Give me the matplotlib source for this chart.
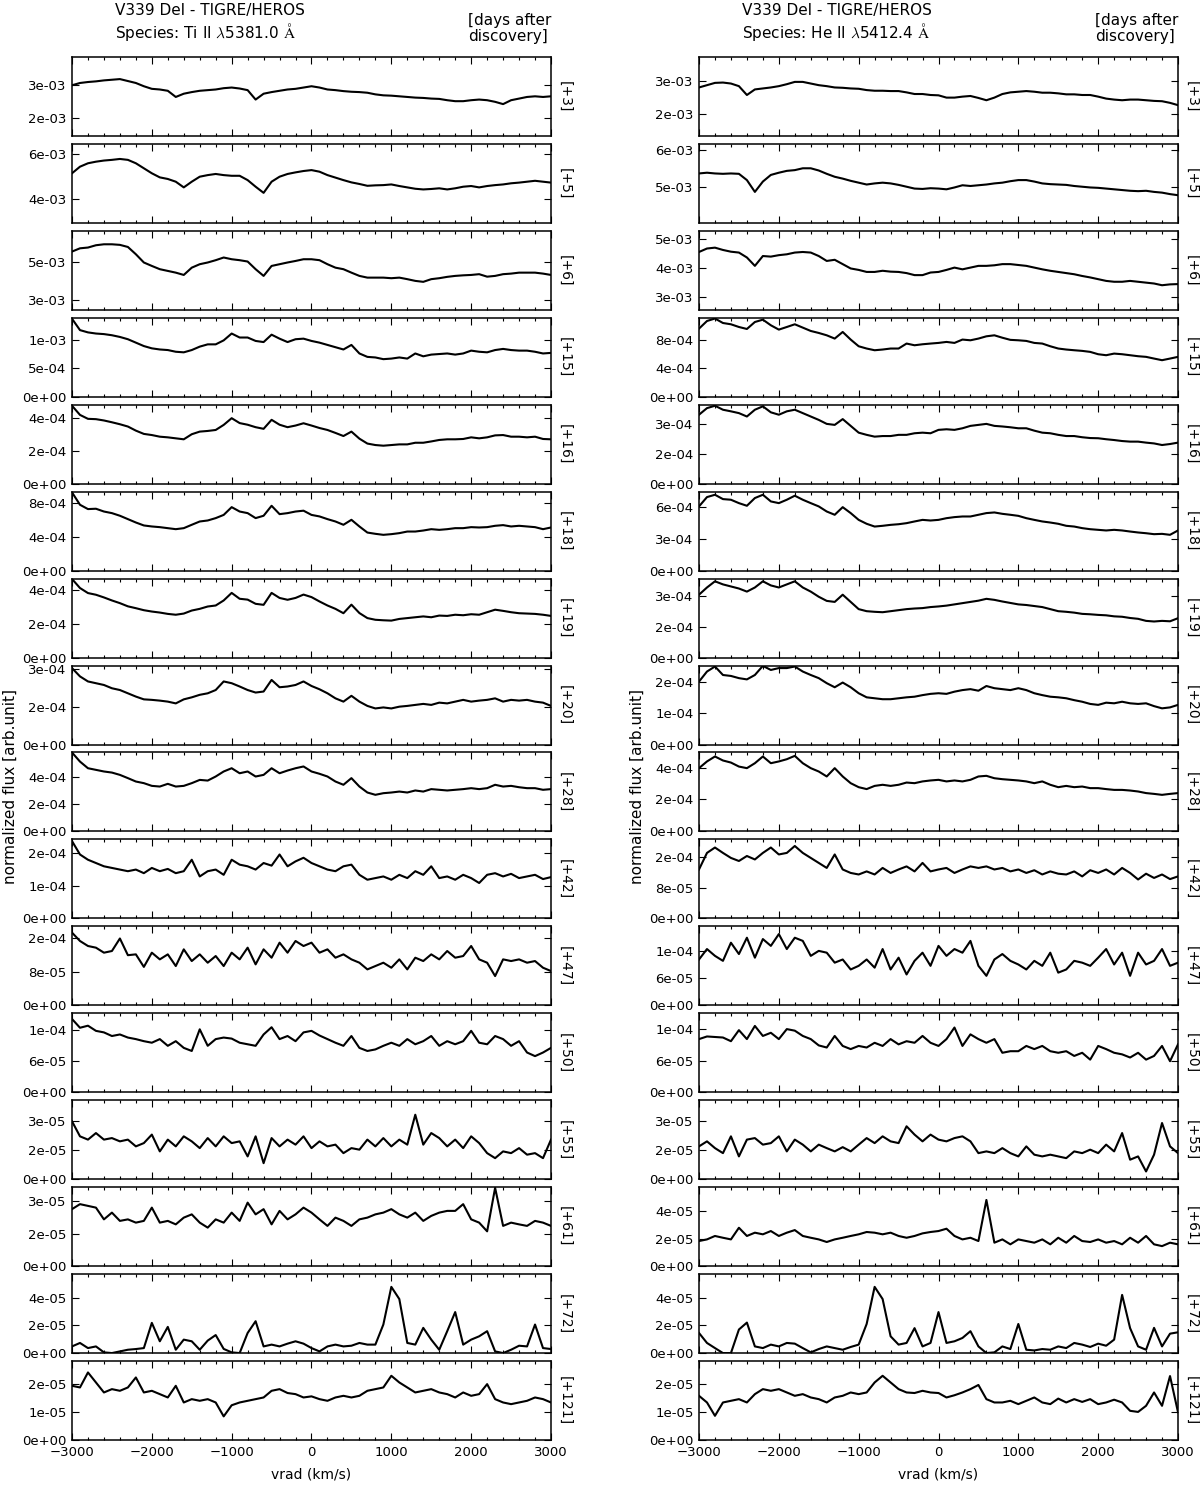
import numpy as np
import matplotlib
matplotlib.use("Agg")
import matplotlib.pyplot as plt
from matplotlib.ticker import MultipleLocator, FuncFormatter

plt.rcParams['mathtext.fontset'] = 'cm'

vrad = np.arange(-3000, 3001, 100)
days = ["+3", "+5", "+6", "+15", "+16", "+18", "+19", "+20",
        "+28", "+42", "+47", "+50", "+55", "+61", "+72", "+121"]

# ---- Ti II 5381.0 (left column), values in units of scale ----
ti_p3 = [3.00, 3.07, 3.10, 3.12, 3.15, 3.17, 3.19, 3.13, 3.07, 2.97,
         2.89, 2.87, 2.83, 2.64, 2.74, 2.79, 2.83, 2.85, 2.87, 2.91,
         2.93, 2.90, 2.85, 2.56, 2.74, 2.79, 2.83, 2.87, 2.89, 2.93,
         2.97, 2.93, 2.87, 2.85, 2.82, 2.80, 2.79, 2.77, 2.72, 2.69,
         2.68, 2.66, 2.64, 2.62, 2.61, 2.59, 2.58, 2.54, 2.51, 2.51,
         2.54, 2.56, 2.54, 2.49, 2.42, 2.54, 2.59, 2.64, 2.66, 2.64, 2.66]
ti_p5 = [5.15, 5.44, 5.59, 5.66, 5.71, 5.74, 5.78, 5.74, 5.59, 5.37,
         5.15, 4.97, 4.90, 4.78, 4.53, 4.78, 5.00, 5.07, 5.12, 5.07,
         5.04, 5.04, 4.85, 4.56, 4.29, 4.78, 5.00, 5.12, 5.19, 5.25,
         5.29, 5.22, 5.07, 4.96, 4.85, 4.75, 4.68, 4.60, 4.62, 4.63,
         4.66, 4.59, 4.53, 4.47, 4.44, 4.46, 4.49, 4.44, 4.49, 4.56,
         4.59, 4.53, 4.59, 4.63, 4.66, 4.71, 4.74, 4.78, 4.82, 4.78, 4.74]
ti_p6 = [5.54, 5.71, 5.75, 5.87, 5.92, 5.92, 5.89, 5.78, 5.40, 4.97,
         4.79, 4.62, 4.53, 4.44, 4.32, 4.70, 4.88, 4.97, 5.09, 5.23,
         5.14, 5.09, 5.02, 4.62, 4.27, 4.79, 4.88, 4.97, 5.05, 5.14,
         5.14, 5.09, 4.88, 4.70, 4.62, 4.44, 4.27, 4.18, 4.18, 4.18,
         4.15, 4.18, 4.10, 4.01, 3.96, 4.10, 4.15, 4.22, 4.27, 4.30,
         4.32, 4.36, 4.23, 4.27, 4.36, 4.39, 4.44, 4.44, 4.44, 4.39, 4.32]
ti_p15 = [13.7, 11.7, 11.3, 11.1, 11.0, 10.8, 10.5, 10.1, 9.5, 8.9,
          8.5, 8.3, 8.2, 7.9, 7.8, 8.2, 8.8, 9.2, 9.2, 9.9,
          11.1, 10.4, 10.4, 9.8, 9.6, 10.9, 10.2, 9.6, 10.1, 10.2,
          9.8, 9.5, 9.1, 8.7, 8.3, 9.1, 7.6, 7.0, 6.9, 6.6,
          6.7, 6.9, 6.7, 7.6, 7.1, 7.4, 7.5, 7.6, 7.4, 7.6,
          8.1, 7.9, 7.8, 8.2, 8.4, 8.2, 8.1, 8.1, 7.9, 7.6, 7.7]
ti_p16 = [4.76, 4.20, 3.96, 3.94, 3.86, 3.75, 3.63, 3.49, 3.24, 3.04,
          2.97, 2.87, 2.83, 2.77, 2.71, 3.02, 3.18, 3.22, 3.28, 3.59,
          4.00, 3.70, 3.60, 3.45, 3.35, 3.90, 3.60, 3.45, 3.55, 3.69,
          3.55, 3.40, 3.28, 3.10, 2.91, 3.18, 2.75, 2.45, 2.36, 2.32,
          2.36, 2.40, 2.40, 2.50, 2.50, 2.58, 2.67, 2.71, 2.71, 2.73,
          2.83, 2.77, 2.83, 2.95, 2.97, 2.87, 2.87, 2.83, 2.87, 2.73, 2.71]
ti_p18 = [9.27, 7.80, 7.29, 7.33, 7.00, 6.81, 6.50, 6.10, 5.70, 5.35,
          5.23, 5.15, 5.03, 4.91, 5.03, 5.43, 5.82, 5.94, 6.22, 6.60,
          7.52, 7.00, 6.81, 6.22, 6.50, 7.68, 6.69, 6.81, 7.00, 7.10,
          6.60, 6.42, 6.10, 5.82, 5.43, 6.02, 5.23, 4.51, 4.36, 4.24,
          4.32, 4.44, 4.63, 4.63, 4.75, 4.91, 4.83, 4.91, 5.03, 5.03,
          5.15, 5.11, 5.15, 5.31, 5.39, 5.23, 5.31, 5.23, 5.15, 4.91, 5.11]
ti_p19 = [4.68, 4.14, 3.84, 3.74, 3.58, 3.40, 3.24, 3.05, 2.94, 2.82,
          2.74, 2.68, 2.60, 2.55, 2.62, 2.80, 2.90, 3.04, 3.10, 3.40,
          3.85, 3.50, 3.45, 3.20, 3.14, 3.85, 3.55, 3.44, 3.55, 3.75,
          3.60, 3.34, 3.10, 2.90, 2.64, 3.15, 2.65, 2.35, 2.25, 2.22,
          2.20, 2.30, 2.35, 2.40, 2.45, 2.40, 2.50, 2.48, 2.55, 2.52,
          2.58, 2.55, 2.70, 2.85, 2.78, 2.70, 2.64, 2.62, 2.60, 2.55, 2.48]
ti_p20 = [3.03, 2.70, 2.50, 2.43, 2.36, 2.23, 2.16, 2.03, 1.90, 1.79,
          1.77, 1.74, 1.70, 1.63, 1.79, 1.87, 1.97, 2.03, 2.16, 2.50,
          2.43, 2.30, 2.16, 2.06, 2.10, 2.56, 2.27, 2.30, 2.36, 2.50,
          2.32, 2.19, 2.03, 1.83, 1.70, 1.93, 1.70, 1.53, 1.43, 1.47,
          1.43, 1.50, 1.53, 1.57, 1.61, 1.57, 1.66, 1.63, 1.70, 1.77,
          1.70, 1.74, 1.77, 1.83, 1.70, 1.77, 1.74, 1.77, 1.70, 1.66, 1.53]
ti_p28 = [5.82, 5.15, 4.66, 4.54, 4.42, 4.34, 4.17, 3.93, 3.68, 3.56,
          3.36, 3.31, 3.51, 3.31, 3.36, 3.56, 3.80, 3.75, 4.05, 4.42,
          4.66, 4.29, 4.42, 4.05, 4.17, 4.66, 4.29, 4.49, 4.66, 4.79,
          4.42, 4.25, 4.05, 3.68, 3.44, 3.93, 3.31, 2.87, 2.70, 2.82,
          2.87, 2.94, 2.87, 3.02, 2.94, 3.12, 3.07, 3.02, 3.07, 3.12,
          3.19, 3.12, 3.19, 3.44, 3.31, 3.36, 3.26, 3.19, 3.19, 3.07, 3.12]
ti_p42 = [2.36, 1.95, 1.79, 1.69, 1.59, 1.54, 1.49, 1.44, 1.49, 1.38,
          1.54, 1.44, 1.51, 1.38, 1.44, 1.79, 1.28, 1.44, 1.49, 1.33,
          1.79, 1.64, 1.59, 1.49, 1.69, 1.61, 1.95, 1.59, 1.74, 1.85,
          1.69, 1.59, 1.49, 1.44, 1.59, 1.64, 1.33, 1.18, 1.23, 1.28,
          1.18, 1.33, 1.23, 1.44, 1.33, 1.59, 1.23, 1.28, 1.18, 1.33,
          1.23, 1.08, 1.33, 1.38, 1.28, 1.36, 1.23, 1.28, 1.33, 1.20, 1.26]
ti_p47 = [17.4, 15.4, 14.2, 13.8, 12.6, 13.0, 16.0, 12.0, 12.2, 9.2,
          12.6, 11.0, 12.2, 9.4, 13.4, 10.6, 12.2, 10.2, 11.8, 9.4,
          12.6, 11.0, 13.8, 9.8, 13.4, 11.4, 15.0, 12.6, 15.4, 14.2,
          15.0, 12.6, 13.4, 11.4, 12.2, 11.0, 10.2, 8.6, 9.4, 10.2,
          9.0, 11.0, 8.6, 11.4, 10.6, 12.2, 11.0, 13.0, 11.4, 11.8,
          14.2, 11.0, 10.2, 7.0, 11.0, 10.6, 11.0, 10.2, 10.6, 9.0, 8.2]
ti_p50 = [14.2, 12.5, 12.9, 11.9, 11.6, 10.9, 11.2, 10.6, 10.3, 9.9,
          9.6, 10.3, 9.0, 9.9, 8.6, 8.0, 12.2, 9.0, 10.3, 10.6,
          10.4, 9.6, 9.3, 9.0, 11.2, 12.6, 10.3, 10.9, 9.9, 11.6,
          11.9, 11.0, 10.3, 9.6, 9.0, 10.9, 8.6, 8.0, 8.3, 9.0,
          9.6, 9.0, 10.3, 9.3, 9.9, 10.9, 9.0, 9.9, 9.3, 9.9,
          11.9, 9.6, 9.3, 10.9, 10.3, 9.0, 9.9, 7.7, 7.0, 7.7, 8.6]
ti_p55 = [3.00, 2.22, 2.05, 2.39, 2.05, 2.13, 1.96, 2.05, 1.70, 1.87,
          2.31, 1.44, 2.05, 1.70, 2.22, 1.96, 1.61, 2.13, 1.70, 2.22,
          1.87, 1.96, 1.18, 2.22, 0.83, 2.13, 1.70, 2.05, 1.79, 2.22,
          1.61, 1.96, 1.70, 1.79, 1.35, 1.61, 1.53, 2.05, 1.70, 2.13,
          1.70, 2.05, 1.79, 3.34, 1.79, 2.39, 2.13, 1.70, 2.05, 1.61,
          2.22, 1.87, 1.35, 1.09, 1.44, 1.35, 1.61, 1.27, 1.35, 1.09, 2.05]
ti_p61 = [2.62, 2.85, 2.77, 2.69, 2.15, 2.46, 2.08, 2.15, 2.00, 2.08,
          2.69, 2.00, 2.08, 1.92, 2.23, 2.38, 2.00, 1.77, 2.15, 2.00,
          2.46, 2.08, 2.92, 2.38, 2.62, 1.92, 2.54, 2.15, 2.38, 2.69,
          2.46, 2.15, 1.85, 2.23, 2.08, 1.85, 2.15, 2.23, 2.38, 2.46,
          2.62, 2.38, 2.23, 2.46, 2.08, 2.31, 2.46, 2.54, 2.54, 2.85,
          2.15, 2.00, 1.60, 3.60, 1.85, 2.00, 1.92, 1.85, 2.08, 2.00, 1.85]
ti_p72 = [0.48, 0.73, 0.36, 0.48, 0.05, 0.00, 0.12, 0.24, 0.29, 0.36,
          2.18, 0.85, 1.89, 0.24, 0.97, 0.85, 0.24, 0.90, 1.30, 0.30,
          0.05, 0.00, 1.45, 2.30, 0.48, 0.61, 0.48, 0.68, 0.85, 0.68,
          0.36, 0.12, 0.48, 0.61, 0.48, 0.53, 0.73, 0.61, 0.61, 2.06,
          4.78, 3.90, 0.73, 0.61, 1.82, 0.97, 0.24, 1.58, 2.96, 0.61,
          0.97, 1.21, 1.58, 0.12, 0.00, 0.24, 0.53, 0.48, 2.06, 0.36, 0.29]
ti_p121 = [1.95, 1.89, 2.43, 2.07, 1.71, 1.83, 1.77, 1.89, 2.25, 1.71,
           1.77, 1.65, 1.53, 1.95, 1.35, 1.47, 1.41, 1.47, 1.35, 0.85,
           1.25, 1.35, 1.41, 1.47, 1.53, 1.77, 1.83, 1.69, 1.65, 1.53,
           1.57, 1.47, 1.41, 1.53, 1.59, 1.53, 1.59, 1.77, 1.83, 1.89,
           2.31, 2.07, 1.89, 1.71, 1.77, 1.83, 1.71, 1.65, 1.53, 1.71,
           1.59, 1.65, 2.01, 1.47, 1.35, 1.29, 1.35, 1.41, 1.53, 1.47, 1.35]

# ---- He II 5412.4 (right column) ----
he_p3 = [2.80, 2.87, 2.94, 2.95, 2.92, 2.84, 2.57, 2.74, 2.77, 2.80,
         2.84, 2.90, 2.97, 2.97, 2.92, 2.87, 2.84, 2.80, 2.79, 2.77,
         2.76, 2.72, 2.70, 2.70, 2.69, 2.69, 2.65, 2.60, 2.60, 2.57,
         2.56, 2.49, 2.49, 2.52, 2.54, 2.48, 2.41, 2.49, 2.60, 2.65,
         2.67, 2.69, 2.67, 2.64, 2.64, 2.62, 2.59, 2.59, 2.57, 2.57,
         2.52, 2.46, 2.43, 2.41, 2.43, 2.43, 2.41, 2.39, 2.38, 2.33, 2.26]
he_p5 = [5.36, 5.38, 5.36, 5.35, 5.36, 5.35, 5.18, 4.86, 5.14, 5.32,
         5.38, 5.43, 5.45, 5.50, 5.50, 5.44, 5.35, 5.27, 5.22, 5.16,
         5.11, 5.06, 5.09, 5.11, 5.09, 5.05, 5.00, 4.95, 4.94, 4.96,
         4.95, 4.93, 4.98, 5.04, 5.02, 5.04, 5.06, 5.09, 5.11, 5.15,
         5.18, 5.18, 5.14, 5.09, 5.07, 5.06, 5.05, 5.02, 5.00, 4.98,
         4.97, 4.95, 4.93, 4.91, 4.89, 4.88, 4.89, 4.86, 4.84, 4.80, 4.77]
he_p6 = [4.55, 4.67, 4.70, 4.62, 4.56, 4.53, 4.36, 4.07, 4.41, 4.39,
         4.44, 4.47, 4.53, 4.55, 4.53, 4.41, 4.24, 4.28, 4.13, 3.98,
         3.93, 3.86, 3.86, 3.90, 3.87, 3.86, 3.82, 3.75, 3.75, 3.84,
         3.86, 3.93, 4.01, 3.95, 4.01, 4.07, 4.07, 4.09, 4.13, 4.13,
         4.10, 4.07, 4.01, 3.95, 3.90, 3.86, 3.82, 3.78, 3.72, 3.67,
         3.61, 3.55, 3.52, 3.52, 3.55, 3.52, 3.49, 3.46, 3.40, 3.43, 3.44]
he_p15 = [9.58, 10.65, 11.0, 10.37, 10.19, 9.81, 9.53, 10.51, 10.84, 10.05,
          9.44, 9.81, 10.19, 9.72, 9.25, 8.97, 8.64, 8.18, 9.11, 8.04,
          7.10, 6.78, 6.54, 6.64, 6.78, 6.78, 7.48, 7.24, 7.38, 7.48,
          7.57, 7.71, 7.57, 8.04, 7.94, 8.18, 8.50, 8.64, 8.30, 8.00,
          7.94, 7.85, 7.57, 7.48, 7.10, 6.78, 6.64, 6.54, 6.45, 6.31,
          5.98, 5.84, 6.07, 5.98, 5.84, 5.70, 5.61, 5.37, 5.14, 5.37, 5.61]
he_p16 = [3.46, 3.79, 3.91, 3.71, 3.63, 3.54, 3.37, 3.71, 3.88, 3.58,
          3.46, 3.63, 3.71, 3.54, 3.37, 3.20, 3.00, 2.95, 3.24, 2.90,
          2.56, 2.45, 2.36, 2.39, 2.39, 2.45, 2.45, 2.53, 2.56, 2.53,
          2.70, 2.73, 2.70, 2.78, 2.90, 2.95, 3.00, 2.90, 2.87, 2.83,
          2.78, 2.78, 2.66, 2.56, 2.53, 2.45, 2.39, 2.39, 2.33, 2.29,
          2.28, 2.23, 2.19, 2.14, 2.11, 2.11, 2.06, 2.02, 1.94, 1.99, 2.06]
he_p18 = [6.06, 6.94, 7.16, 6.75, 6.69, 6.37, 6.12, 6.85, 7.16, 6.53,
          6.37, 6.69, 7.07, 6.69, 6.37, 6.06, 5.58, 5.27, 5.99, 5.43,
          4.79, 4.42, 4.16, 4.23, 4.32, 4.38, 4.48, 4.64, 4.79, 4.73,
          4.79, 4.95, 5.05, 5.11, 5.11, 5.27, 5.43, 5.49, 5.36, 5.27,
          5.17, 4.95, 4.79, 4.64, 4.54, 4.42, 4.23, 4.16, 4.01, 3.91,
          3.85, 3.79, 3.85, 3.79, 3.69, 3.60, 3.53, 3.44, 3.47, 3.38, 3.79]
he_p19 = [3.05, 3.40, 3.70, 3.55, 3.45, 3.35, 3.20, 3.40, 3.70, 3.50,
          3.40, 3.55, 3.70, 3.40, 3.20, 2.95, 2.75, 2.70, 3.05, 2.70,
          2.35, 2.25, 2.22, 2.20, 2.25, 2.30, 2.35, 2.38, 2.40, 2.45,
          2.48, 2.52, 2.58, 2.64, 2.70, 2.76, 2.85, 2.80, 2.72, 2.65,
          2.58, 2.55, 2.50, 2.45, 2.35, 2.25, 2.22, 2.18, 2.12, 2.10,
          2.07, 2.05, 2.00, 1.98, 1.92, 1.88, 1.78, 1.75, 1.78, 1.76, 1.91]
he_p20 = [2.00, 2.32, 2.48, 2.21, 2.18, 2.11, 2.07, 2.21, 2.50, 2.37,
          2.43, 2.43, 2.48, 2.32, 2.21, 2.11, 1.95, 1.82, 1.97, 1.82,
          1.63, 1.50, 1.47, 1.44, 1.44, 1.47, 1.50, 1.52, 1.57, 1.61,
          1.63, 1.61, 1.68, 1.73, 1.76, 1.71, 1.86, 1.79, 1.76, 1.73,
          1.79, 1.73, 1.63, 1.57, 1.52, 1.50, 1.47, 1.41, 1.36, 1.29,
          1.26, 1.33, 1.31, 1.36, 1.31, 1.29, 1.31, 1.22, 1.15, 1.18, 1.26]
he_p28 = [3.96, 4.38, 4.69, 4.44, 4.31, 4.06, 3.96, 4.27, 4.69, 4.27,
          4.38, 4.52, 4.73, 4.27, 3.96, 3.75, 3.44, 3.96, 3.44, 3.02,
          2.77, 2.65, 2.85, 2.92, 2.85, 2.92, 3.06, 3.02, 3.13, 3.19,
          3.23, 3.13, 3.19, 3.13, 3.23, 3.44, 3.48, 3.33, 3.27, 3.23,
          3.19, 3.13, 3.02, 3.13, 2.92, 2.77, 2.85, 2.77, 2.81, 2.71,
          2.71, 2.65, 2.60, 2.60, 2.56, 2.50, 2.40, 2.35, 2.29, 2.35, 2.40]
he_p42 = [1.27, 1.70, 1.84, 1.70, 1.57, 1.49, 1.62, 1.53, 1.70, 1.84,
          1.66, 1.70, 1.88, 1.70, 1.57, 1.44, 1.31, 1.66, 1.27, 1.18,
          1.14, 1.22, 1.14, 1.31, 1.18, 1.27, 1.35, 1.22, 1.44, 1.22,
          1.27, 1.31, 1.18, 1.27, 1.35, 1.31, 1.35, 1.27, 1.31, 1.22,
          1.27, 1.18, 1.25, 1.14, 1.22, 1.16, 1.14, 1.22, 1.09, 1.25,
          1.18, 1.27, 1.14, 1.31, 1.18, 1.01, 1.16, 1.05, 1.14, 1.02, 1.09]
he_p47 = [10.1, 12.4, 10.9, 9.8, 13.8, 11.3, 14.9, 10.5, 14.6, 13.1,
          15.7, 12.4, 14.9, 14.2, 10.9, 12.0, 11.6, 9.4, 10.1, 7.9,
          8.7, 10.1, 8.3, 12.4, 7.9, 10.5, 6.8, 9.8, 11.6, 8.7,
          13.1, 10.9, 12.4, 11.6, 14.2, 8.7, 6.5, 10.1, 11.3, 9.8,
          9.0, 7.9, 9.8, 8.7, 11.6, 7.2, 7.9, 9.8, 9.4, 8.7,
          10.5, 12.4, 9.0, 11.6, 6.5, 11.6, 9.0, 9.8, 12.4, 8.7, 9.4]
he_p50 = [10.1, 10.6, 10.5, 10.4, 9.7, 11.8, 10.1, 12.6, 10.7, 11.3,
          10.1, 12.0, 11.7, 10.7, 10.1, 8.9, 8.5, 10.7, 8.8, 8.2,
          8.8, 8.5, 9.4, 8.8, 10.1, 9.1, 9.7, 9.4, 10.7, 9.4,
          8.8, 10.1, 12.3, 8.8, 11.0, 10.1, 9.4, 10.1, 7.5, 7.8,
          7.8, 8.8, 8.2, 8.8, 7.8, 7.5, 7.8, 6.9, 7.5, 6.2,
          8.8, 8.2, 7.5, 7.2, 6.6, 7.5, 6.2, 6.9, 8.8, 5.9, 9.1]
he_p55 = [1.70, 1.96, 1.61, 1.35, 2.22, 1.18, 2.05, 2.13, 1.79, 1.87,
          2.22, 1.44, 2.05, 1.79, 1.44, 1.79, 1.61, 1.44, 1.66, 1.44,
          1.79, 2.13, 1.87, 2.22, 1.96, 1.87, 2.74, 2.31, 1.96, 2.31,
          2.05, 1.96, 2.13, 2.22, 1.96, 1.35, 1.44, 1.35, 1.61, 1.35,
          1.18, 1.70, 1.27, 1.18, 1.27, 1.18, 1.09, 1.44, 1.35, 1.53,
          1.35, 1.79, 1.44, 2.39, 1.01, 1.18, 0.40, 1.27, 2.91, 1.70, 1.35]
he_p61 = [1.83, 1.95, 2.20, 2.07, 1.95, 2.80, 2.20, 2.44, 2.32, 2.56,
          2.20, 2.44, 2.63, 2.20, 2.07, 1.95, 1.76, 1.95, 2.07, 2.20,
          2.32, 2.49, 2.44, 2.32, 2.44, 2.20, 2.07, 2.20, 2.39, 2.49,
          2.56, 2.73, 2.20, 1.95, 2.07, 1.83, 4.83, 1.71, 1.95, 1.59,
          1.95, 1.83, 1.71, 1.95, 1.59, 2.07, 1.71, 2.20, 1.83, 1.76,
          1.95, 1.71, 1.83, 1.59, 2.07, 1.71, 2.20, 1.59, 1.46, 1.71, 1.59]
he_p72 = [1.45, 0.73, 0.36, 0.00, 0.00, 1.70, 2.20, 0.48, 0.36, 0.61,
          0.48, 0.73, 0.68, 0.36, 0.05, 0.29, 0.48, 0.36, 0.24, 0.44,
          0.61, 2.10, 4.78, 3.90, 1.21, 0.61, 0.73, 1.80, 0.48, 0.73,
          2.96, 0.73, 0.85, 1.09, 1.58, 0.48, 0.00, 0.05, 0.48, 0.29,
          2.10, 0.24, 0.19, 0.29, 0.24, 0.48, 0.36, 0.73, 0.61, 0.44,
          0.68, 0.53, 0.97, 4.20, 1.80, 0.48, 0.24, 1.82, 0.48, 1.40, 1.50]
he_p121 = [1.59, 1.35, 0.87, 1.35, 1.41, 1.47, 1.35, 1.65, 1.83, 1.77,
           1.83, 1.71, 1.59, 1.65, 1.53, 1.47, 1.35, 1.53, 1.59, 1.71,
           1.65, 1.71, 2.07, 2.31, 2.07, 1.83, 1.71, 1.69, 1.77, 1.71,
           1.69, 1.53, 1.61, 1.71, 1.83, 1.98, 1.47, 1.35, 1.35, 1.41,
           1.29, 1.41, 1.53, 1.35, 1.29, 1.49, 1.35, 1.47, 1.37, 1.47,
           1.29, 1.35, 1.45, 1.35, 1.05, 1.01, 1.23, 1.71, 1.23, 2.30, 1.00]

ti_flux = [ti_p3, ti_p5, ti_p6, ti_p15, ti_p16, ti_p18, ti_p19, ti_p20,
           ti_p28, ti_p42, ti_p47, ti_p50, ti_p55, ti_p61, ti_p72, ti_p121]
he_flux = [he_p3, he_p5, he_p6, he_p15, he_p16, he_p18, he_p19, he_p20,
           he_p28, he_p42, he_p47, he_p50, he_p55, he_p61, he_p72, he_p121]
scale = [1e-3] * 3 + [1e-4] * 7 + [1e-5] * 6

ti_ylim = [(1.44, 3.87), (2.97, 6.44), (2.50, 6.62), (0, 13.86), (0, 4.82),
           (0, 9.35), (0, 4.70), (0, 3.13), (0, 5.82), (0, 2.41), (0, 18.9),
           (0, 15.3), (0, 4.09), (0, 3.63), (0, 5.70), (0, 2.84)]
ti_yticks = [[2, 3], [4, 6], [3, 5], [0, 5, 10], [0, 2, 4], [0, 4, 8], [0, 2, 4],
             [0, 1.5, 3], [0, 2, 4], [0, 1, 2], [0, 8, 16], [0, 6, 12],
             [0, 1.5, 3], [0, 1.5, 3], [0, 2, 4], [0, 1, 2]]
he_ylim = [(1.32, 3.73), (4.02, 6.16), (2.55, 5.28), (0, 11.1), (0, 3.96),
           (0, 7.45), (0, 3.83), (0, 2.51), (0, 4.94), (0, 2.05), (0, 17.4),
           (0, 15.0), (0, 4.09), (0, 5.76), (0, 5.70), (0, 2.84)]
he_yticks = [[2, 3], [5, 6], [3, 4, 5], [0, 4, 8], [0, 1.5, 3], [0, 3, 6],
             [0, 1.5, 3], [0, 1, 2], [0, 2, 4], [0, 0.8, 1.6], [0, 6, 12],
             [0, 6, 12], [0, 1.5, 3], [0, 2, 4], [0, 2, 4], [0, 1, 2]]

columns = [
    ("Ti II", "5381.0", ti_flux, ti_ylim, ti_yticks),
    ("He II", "5412.4", he_flux, he_ylim, he_yticks),
]

W, H = 1200, 1485
fig = plt.figure(figsize=(12, 14.85), dpi=100)
gs = fig.add_gridspec(16, 2, left=72 / W, right=1178 / W, top=1 - 57 / H,
                      bottom=1 - 1440 / H, hspace=8 / 79, wspace=148 / 479)

yfmt = FuncFormatter(lambda v, p: '%.0e' % (v * 1.0000001))

for c, (species, lam, fluxes, ylims, yticks) in enumerate(columns):
    for r in range(16):
        ax = fig.add_subplot(gs[r, c])
        ax.plot(vrad, np.array(fluxes[r]) * scale[r], color='k', lw=1.5)
        ax.set_xlim(-3000, 3000)
        ax.set_ylim(ylims[r][0] * scale[r], ylims[r][1] * scale[r])
        ax.set_yticks([t * scale[r] for t in yticks[r]])
        ax.yaxis.set_major_formatter(yfmt)
        ax.xaxis.set_major_locator(MultipleLocator(1000))
        ax.xaxis.set_minor_locator(MultipleLocator(200))
        ax.tick_params(which='both', direction='in', top=True, right=True,
                       labelsize=9.5, pad=4)
        ax.tick_params(which='major', length=5, width=0.8)
        ax.tick_params(which='minor', length=2.5, width=0.8)
        for s in ax.spines.values():
            s.set_linewidth(1.1)
        if r < 15:
            ax.tick_params(labelbottom=False)
        ax.text(1.028, 0.5, '[' + days[r] + ']', transform=ax.transAxes,
                rotation=270, ha='center', va='center', fontsize=10)

    x0 = [115, 742][c]
    fig.text(x0 / W, 1 - 11 / H, 'V339 Del - TIGRE/HEROS', ha='left', va='center', fontsize=11)
    fig.text(x0 / W, 1 - 32 / H, 'Species: ' + species + r' $\lambda$' + lam + r' $\mathrm{\AA}$',
             ha='left', va='center', fontsize=11)
    xd = [468, 1095][c]
    fig.text(xd / W, 1 - 20 / H, '[days after', ha='left', va='center', fontsize=11)
    fig.text(xd / W, 1 - 36 / H, 'discovery]', ha='left', va='center', fontsize=11)
    fig.text([10, 637][c] / W, 1 - 786 / H, 'normalized flux [arb.unit]',
             rotation=90, ha='center', va='center', fontsize=11)
    fig.text([311, 938][c] / W, 1 - 1475 / H, 'vrad (km/s)', ha='center',
             va='center', fontsize=10)

fig.savefig('out.png', dpi=100)
